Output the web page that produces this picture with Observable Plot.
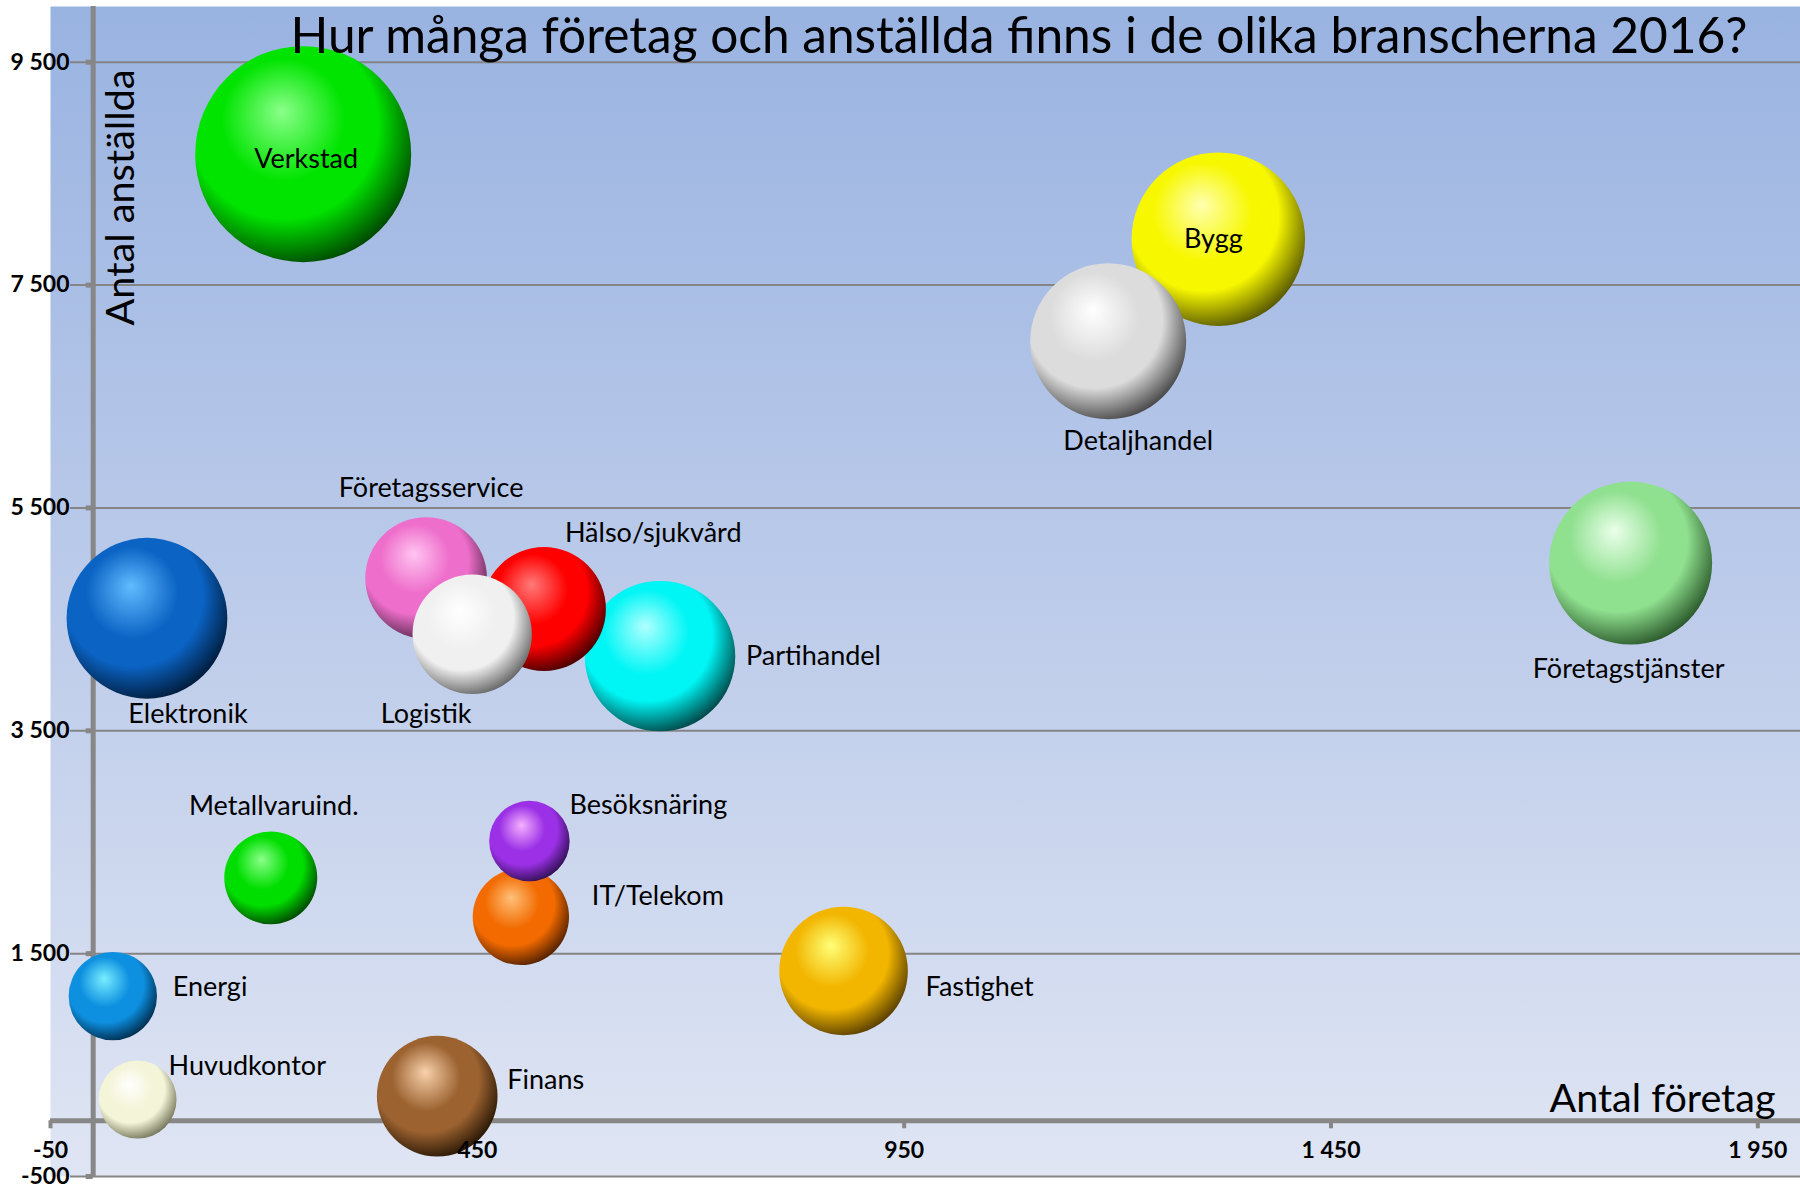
<!DOCTYPE html>
<html>
<head>
<meta charset="utf-8">
<script src="https://cdn.jsdelivr.net/npm/d3@7"></script>
<script src="https://cdn.jsdelivr.net/npm/@observablehq/plot@0.6"></script>
<style>
  html, body { margin: 0; padding: 0; background: #ffffff; }
  #chart svg { display: block; }
</style>
</head>
<body>
<div id="chart"></div>
<script>
// ---- Data ----
const branscher = ["Verkstad", "Bygg", "Detaljhandel", "Företagstjänster", "Elektronik",
  "Företagsservice", "Hälso/sjukvård", "Logistik", "Partihandel", "Metallvaruind.",
  "IT/Telekom", "Besöksnäring", "Fastighet", "Energi", "Huvudkontor", "Finans"];
const antalForetag = [246, 1318, 1189, 1801, 63, 390, 528, 444, 664, 208, 501, 511, 879, 23, 52, 403];
const antalAnstallda = [8675, 7912, 6995, 5005, 4510, 4871, 4593, 4366, 4170, 2180, 1830, 2510, 1345, 1119, 190, 221];
const bubbelStorlek = [1166, 752, 608, 664, 646, 370, 384, 356, 566, 216, 232, 162, 413, 195, 152, 364];

const xTicks = [-50, 450, 950, 1450, 1950];
const yTicks = [-500, 1500, 3500, 5500, 7500, 9500];

const titleText = "Hur många företag och anställda finns i de olika branscherna 2016?";
const xTitle = "Antal företag";
const yTitle = "Antal anställda";

// ---- Styles ----
// sphere palette: [highlight, base, shadow]
const palette = [
  ["#8aff8a", "#00e400", "#004a00"],
  ["#ffffb0", "#f7f700", "#5a5a00"],
  ["#ffffff", "#dcdcdc", "#4a4a4a"],
  ["#eaffea", "#8fe08f", "#2c5a2c"],
  ["#62bcff", "#0b63c4", "#001d3d"],
  ["#ffc4f1", "#ee6ecb", "#5a2a4d"],
  ["#ff7a7a", "#ff0000", "#4a0000"],
  ["#ffffff", "#f0f0f0", "#686868"],
  ["#b0ffff", "#00f5f5", "#004848"],
  ["#8aff8a", "#00de00", "#004a00"],
  ["#ffc078", "#f26a00", "#552200"],
  ["#f5b0ff", "#9b30e6", "#321055"],
  ["#ffff78", "#f2b600", "#5a4000"],
  ["#78eeff", "#0e90e0", "#002e50"],
  ["#ffffff", "#f4f4d8", "#78785e"],
  ["#f8d2ac", "#9c6230", "#2a1806"]
];
// label placement relative to the bubble centre (px) and anchor
const labelDx = [3, -5, 30, -2, 41, 5, 21, -46, 86, 3, 71, 40, 82, 60, 31, 70];
const labelDy = [5, 0, 100, 106, 96, -90, -76, 80, 0, -72, -21, -36, 16, -9, -33, -16];
const labelAnchor = ["middle", "middle", "middle", "middle", "middle", "middle", "start", "middle",
  "start", "middle", "start", "start", "start", "start", "start", "start"];

const rows = branscher.map((name, i) => ({
  name, x: antalForetag[i], y: antalAnstallda[i], size: bubbelStorlek[i],
  fill: `url(#sphere${i})`, dx: labelDx[i], dy: labelDy[i], anchor: labelAnchor[i]
}));

const svLocale = d3.formatLocale({decimal: ",", thousands: " ", grouping: [3], currency: ["", " kr"], minus: "-"});
const fmt = svLocale.format(",");

const font = "Lato, 'Open Sans', 'DejaVu Sans', sans-serif";

const chart = Plot.plot({
  width: 1800,
  height: 1186,
  marginLeft: 50,
  marginRight: 0,
  marginTop: 6,
  marginBottom: 10,
  x: {domain: [-50, 2000]},
  y: {domain: [-500, 10000]},
  r: {type: "sqrt", domain: [0, 1166], range: [0, 108]},
  style: {fontFamily: font, background: "#ffffff", overflow: "visible", color: "#000"},
  marks: [
    Plot.frame({fill: "url(#bgGrad)", stroke: "none"}),
    Plot.ruleY(yTicks, {stroke: "#858585", strokeWidth: 2, insetLeft: 20}),
    Plot.ruleY(yTicks, {x1: 0, x2: 0, insetLeft: -7, stroke: "#878787", strokeWidth: 5}),
    Plot.ruleY([0], {stroke: "#878787", strokeWidth: 5}),
    Plot.ruleX([0], {stroke: "#878787", strokeWidth: 5}),
    Plot.ruleX(xTicks, {y1: 0, y2: 0, insetBottom: -8, stroke: "#878787", strokeWidth: 4}),
    Plot.dot(rows, {x: "x", y: "y", r: "size", fill: "fill", stroke: "none"}),
    Plot.axisY(yTicks, {anchor: "left", label: null, tickSize: 0, tickPadding: -19, tickFormat: fmt,
      fontWeight: "bold", fontSize: 23, fill: "#000"}),
    Plot.axisX(xTicks, {anchor: "bottom", label: null, tickSize: 0, tickPadding: -35, tickFormat: fmt,
      fontWeight: "bold", fontSize: 23, fill: "#000"}),
    ...rows.map(d => Plot.text([d], {x: "x", y: "y", text: "name", dx: d.dx, dy: d.dy,
      textAnchor: d.anchor, lineAnchor: "middle", fontSize: 27, fill: "#000"})),
    Plot.text([titleText], {frameAnchor: "top-left", dx: 240, dy: 46, textAnchor: "start",
      lineAnchor: "bottom", fontSize: 50, fill: "#000"}),
    Plot.text([yTitle], {frameAnchor: "top-left", dx: 83, dy: 63, rotate: -90, textAnchor: "end",
      lineAnchor: "bottom", fontSize: 39, fill: "#000"}),
    Plot.text([xTitle], {frameAnchor: "bottom-right", dx: -25, dy: -65, textAnchor: "end",
      lineAnchor: "bottom", fontSize: 39, fill: "#000"})
  ]
});

// gradients (styling only)
const ns = "http://www.w3.org/2000/svg";
const defs = document.createElementNS(ns, "defs");
let html = `<linearGradient id="bgGrad" x1="0" y1="0" x2="0" y2="1">
  <stop offset="0" stop-color="#99b3e1"/>
  <stop offset="0.5" stop-color="#bccbea"/>
  <stop offset="1" stop-color="#dfe5f3"/>
</linearGradient>`;
palette.forEach(([hi, base, dark], i) => {
  html += `<radialGradient id="sphere${i}" cx="0.42" cy="0.40" r="0.68" fx="0.40" fy="0.30">
    <stop offset="0" stop-color="${hi}"/>
    <stop offset="0.42" stop-color="${base}"/>
    <stop offset="0.64" stop-color="${base}"/>
    <stop offset="0.93" stop-color="${dark}"/>
    <stop offset="1" stop-color="${dark}"/>
  </radialGradient>`;
});
defs.innerHTML = html;
chart.insertBefore(defs, chart.firstChild);

// fit the big titles to the reference's measured widths
const fitWidths = new Map([[titleText, 1457], [yTitle, 256], [xTitle, 226]]);
chart.querySelectorAll("text").forEach(t => {
  const w = fitWidths.get(t.textContent);
  if (w) { t.setAttribute("textLength", w); t.setAttribute("lengthAdjust", "spacingAndGlyphs"); }
});

document.getElementById("chart").appendChild(chart);
</script>
</body>
</html>
